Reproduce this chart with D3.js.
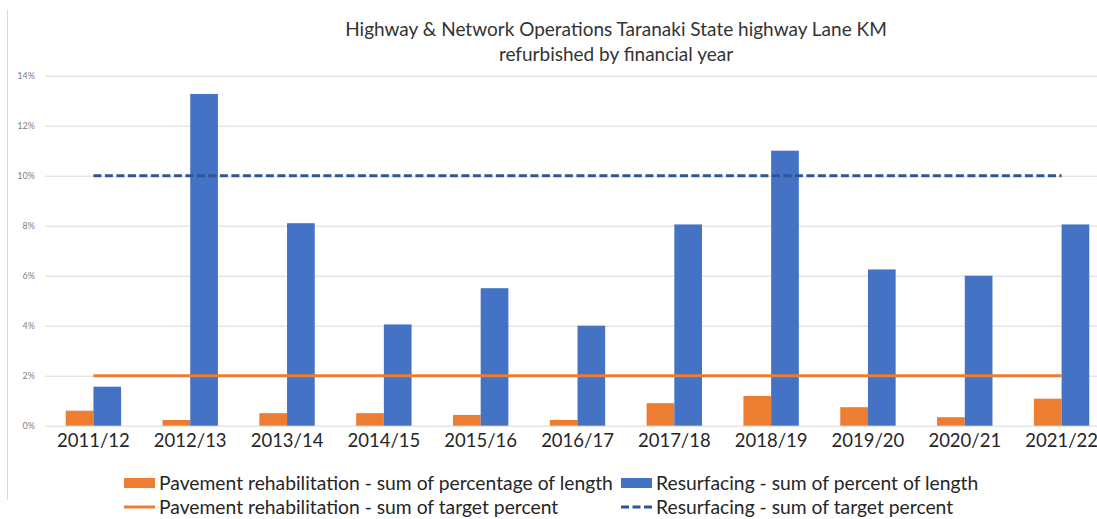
<!DOCTYPE html>
<html>
<head>
<meta charset="utf-8">
<script src="https://cdn.jsdelivr.net/npm/d3@7"></script>
<style>
  body { margin: 0; background: #fff; }
  text { font-family: Lato, "Open Sans", sans-serif; }
</style>
</head>
<body>
<svg id="chart" width="1097" height="519"></svg>
<script>
var years = ["2011/12", "2012/13", "2013/14", "2014/15", "2015/16", "2016/17",
  "2017/18", "2018/19", "2019/20", "2020/21", "2021/22"];
var pavement = [0.006, 0.0023, 0.005, 0.005, 0.0043, 0.0023, 0.009, 0.0119, 0.0074, 0.0034, 0.0108];
var resurfacing = [0.0156, 0.1327, 0.081, 0.0405, 0.055, 0.04, 0.0805, 0.11, 0.0625, 0.06, 0.0805];
var pavementTarget = [0.02, 0.02, 0.02, 0.02, 0.02, 0.02, 0.02, 0.02, 0.02, 0.02, 0.02];
var resurfacingTarget = [0.10, 0.10, 0.10, 0.10, 0.10, 0.10, 0.10, 0.10, 0.10, 0.10, 0.10];
var yTicks = [0, 0.02, 0.04, 0.06, 0.08, 0.10, 0.12, 0.14];

var orange = "#ed7d31", blue = "#4472c4", navy = "#2f5597";

var svg = d3.select("#chart");

var x = d3.scaleBand()
  .domain(years)
  .range([45, 1110])
  .paddingInner(0.428)
  .paddingOuter(0.214);

var y = d3.scaleLinear()
  .domain([0, 0.14])
  .range([425.7, 75.7]);

// frame line on the left
svg.append("line")
  .attr("x1", 7.5).attr("x2", 7.5)
  .attr("y1", 10).attr("y2", 500)
  .attr("stroke", "#d9d9d9");

// title
var title = svg.append("text")
  .attr("text-anchor", "middle")
  .attr("fill", "#333333")
  .style("font-size", "19px");
title.append("tspan").attr("x", 616).attr("y", 36)
  .text("Highway & Network Operations Taranaki State highway Lane KM");
title.append("tspan").attr("x", 616).attr("y", 61)
  .text("refurbished by financial year");

// y axis with gridlines
var yAxis = d3.axisLeft(y)
  .tickValues(yTicks)
  .tickFormat(d3.format(".0%"))
  .tickSize(-1065)
  .tickPadding(10);

var gy = svg.append("g")
  .attr("transform", "translate(45,0)")
  .call(yAxis);
gy.select(".domain").remove();
gy.selectAll(".tick line").attr("stroke", "#d9d9d9");
gy.selectAll(".tick text")
  .attr("fill", "#7f7f7f")
  .style("font-size", "9px");

// bars
var sub = d3.scaleBand()
  .domain(["pavement", "resurfacing"])
  .range([0, x.bandwidth()]);

svg.append("g").selectAll("rect")
  .data(pavement)
  .join("rect")
  .attr("x", function (d, i) { return x(years[i]) + sub("pavement"); })
  .attr("y", function (d) { return y(d); })
  .attr("width", sub.bandwidth())
  .attr("height", function (d) { return y(0) - y(d); })
  .attr("fill", orange);

svg.append("g").selectAll("rect")
  .data(resurfacing)
  .join("rect")
  .attr("x", function (d, i) { return x(years[i]) + sub("resurfacing"); })
  .attr("y", function (d) { return y(d); })
  .attr("width", sub.bandwidth())
  .attr("height", function (d) { return y(0) - y(d); })
  .attr("fill", blue);

// target lines
var line = d3.line()
  .x(function (d, i) { return x(years[i]) + x.bandwidth() / 2; })
  .y(function (d) { return y(d); });

svg.append("path")
  .datum(pavementTarget)
  .attr("d", line)
  .attr("fill", "none")
  .attr("stroke", orange)
  .attr("stroke-width", 3);

svg.append("path")
  .datum(resurfacingTarget)
  .attr("d", line)
  .attr("fill", "none")
  .attr("stroke", navy)
  .attr("stroke-width", 3)
  .attr("stroke-dasharray", "8,3.5");

// x labels
var xAxis = d3.axisBottom(x).tickSize(0).tickPadding(8);
var gx = svg.append("g")
  .attr("transform", "translate(0," + y(0) + ")")
  .call(xAxis);
gx.select(".domain").remove();
gx.selectAll(".tick text")
  .attr("fill", "#262626")
  .style("font-size", "18.5px");

// legend
var legendItems = [
  {label: "Pavement rehabilitation - sum of percentage of length", type: "rect", color: orange, lx: 124, ly: 483},
  {label: "Resurfacing - sum of percent of length", type: "rect", color: blue, lx: 621, ly: 483},
  {label: "Pavement rehabilitation - sum of target percent", type: "line", color: orange, lx: 124, ly: 507},
  {label: "Resurfacing - sum of target percent", type: "dash", color: navy, lx: 621, ly: 507}
];

var lg = svg.append("g").selectAll("g")
  .data(legendItems)
  .join("g")
  .attr("transform", function (d) { return "translate(" + d.lx + "," + d.ly + ")"; });

lg.filter(function (d) { return d.type === "rect"; })
  .append("rect")
  .attr("x", 0).attr("y", -5)
  .attr("width", 31).attr("height", 10)
  .attr("fill", function (d) { return d.color; });

lg.filter(function (d) { return d.type !== "rect"; })
  .append("line")
  .attr("x1", 0).attr("x2", 31)
  .attr("y1", 0).attr("y2", 0)
  .attr("stroke", function (d) { return d.color; })
  .attr("stroke-width", 3)
  .attr("stroke-dasharray", function (d) { return d.type === "dash" ? "8,3.5" : null; });

lg.append("text")
  .attr("x", 35)
  .attr("dy", "0.35em")
  .attr("fill", "#262626")
  .style("font-size", "19.3px")
  .text(function (d) { return d.label; });
</script>
</body>
</html>
